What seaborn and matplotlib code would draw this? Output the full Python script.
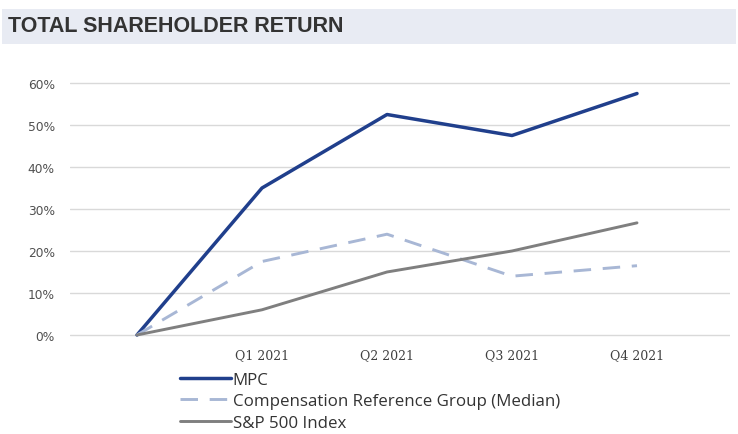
import numpy as np
import pandas as pd
import seaborn as sns
import matplotlib.pyplot as plt
from matplotlib.patches import Rectangle

quarters = ["", "Q1 2021", "Q2 2021", "Q3 2021", "Q4 2021"]
mpc = [0, 35, 52.5, 47.5, 57.5]
comp_group = [0, 17.5, 24, 14, 16.5]
sp500 = [0, 6, 15, 20, 26.7]
series_names = ["MPC", "Compensation Reference Group (Median)", "S&P 500 Index"]

rows = []
for name, vals in zip(series_names, [mpc, comp_group, sp500]):
    for i, v in enumerate(vals):
        rows.append({"pos": i, "tsr": v, "series": name})
df = pd.DataFrame(rows)

sns.set_style("white")
fig = plt.figure(figsize=(7.38, 4.35), dpi=100)

# title band
fig.patches.append(Rectangle((2 / 738, 1 - 45 / 435), 734 / 738, 35 / 435,
                             transform=fig.transFigure, facecolor="#e8ebf3",
                             edgecolor="none", zorder=0))
fig.text(8 / 738, 1 - 27 / 435, "TOTAL SHAREHOLDER RETURN", fontsize=15.5,
         fontweight="bold", color="#333333", va="center", ha="left",
         family="Liberation Sans")

ax = fig.add_axes([70 / 738, 0.2228, 660 / 738, 0.5889])
palette = {"MPC": "#203f8c", "Compensation Reference Group (Median)": "#a8b7d5",
           "S&P 500 Index": "#7f7f7f"}
sns.lineplot(data=df, x="pos", y="tsr", hue="series", palette=palette, ax=ax,
             legend=False)
lws = [2.5, 2.1, 2.1]
for line, lw in zip(ax.get_lines(), lws):
    line.set_linewidth(lw)
ax.get_lines()[1].set_dashes([6, 4])

ax.set_xlim(-0.536, 4.744)
ax.set_ylim(-0.5, 60.5)
ax.set_xticks(range(len(quarters)))
ax.set_xticklabels(quarters, fontsize=9, color="#404040", family="DejaVu Serif")
ax.set_yticks(range(0, 61, 10))
ax.set_yticklabels([f"{v}%" for v in range(0, 61, 10)], fontsize=8.8,
                   color="#505050")
ax.tick_params(length=0, pad=11)
ax.tick_params(axis="x", pad=8)
ax.yaxis.grid(True, color="#d9d9d9", linewidth=1)
ax.set_axisbelow(True)
for s in ax.spines.values():
    s.set_visible(False)
ax.set_xlabel("")
ax.set_ylabel("")

handles = ax.get_lines()
leg = fig.legend(handles, series_names, loc="upper left",
                 bbox_to_anchor=(180 / 738, 1 - 373 / 435), frameon=False,
                 handlelength=3.0, handletextpad=0.1,
                 labelspacing=0.32, borderaxespad=0, borderpad=0,
                 prop={"family": "Open Sans", "size": 12.2})
for t in leg.get_texts():
    t.set_color("#333333")

fig.savefig("out.png", dpi=100)
